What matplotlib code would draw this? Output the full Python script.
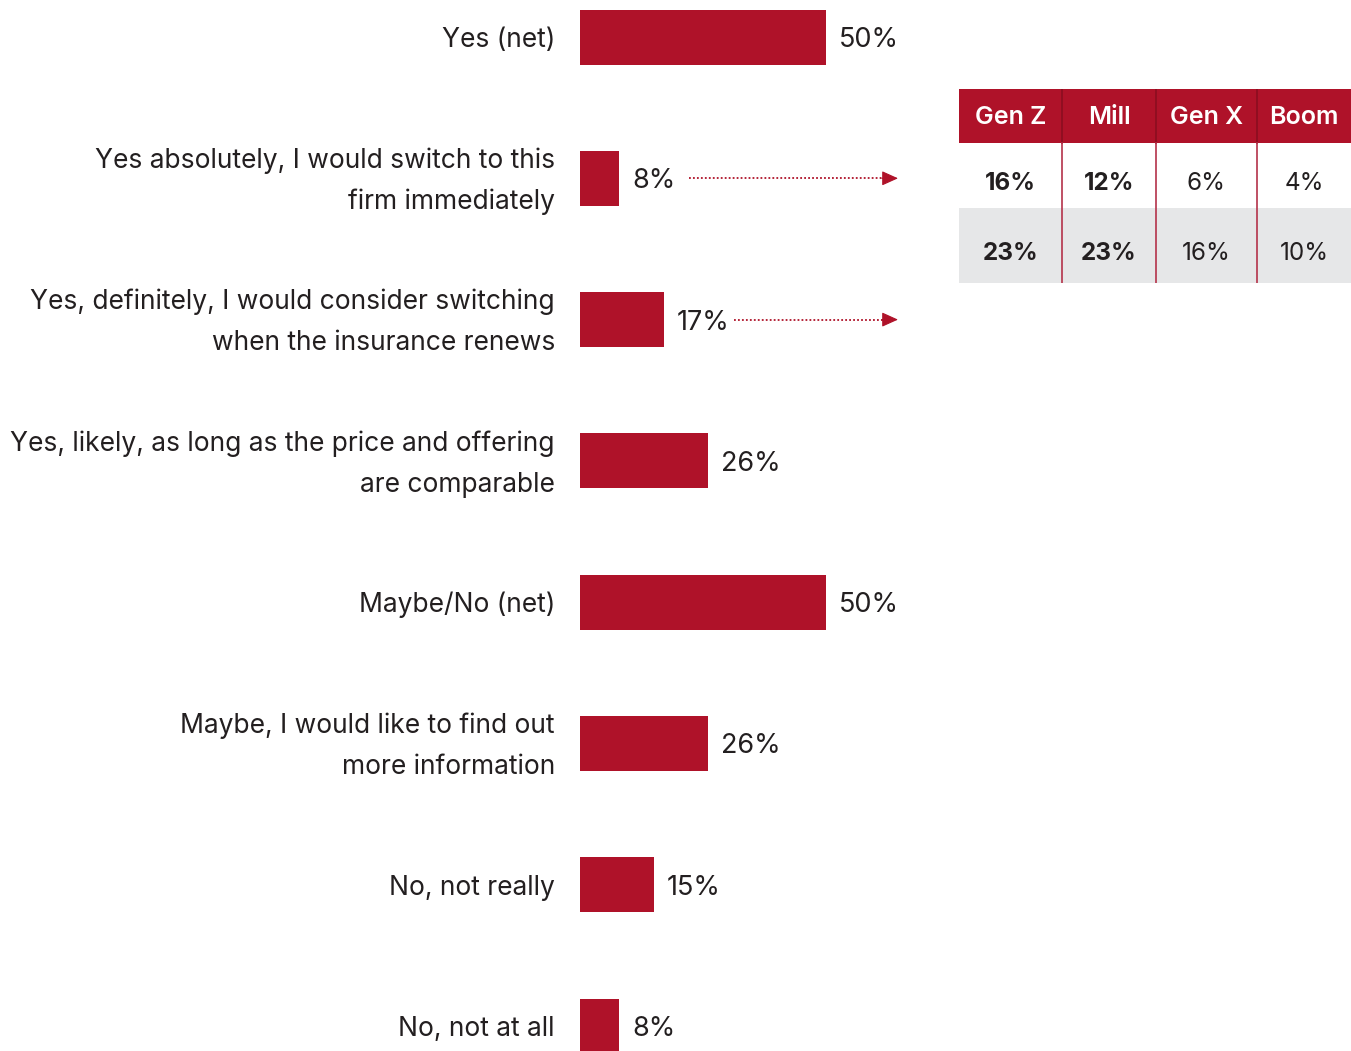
import matplotlib
matplotlib.use("Agg")
import matplotlib.pyplot as plt
from matplotlib.patches import Rectangle

# ---------------- data ----------------
categories = [
    "Yes (net)",
    "Yes absolutely, I would switch to this\nfirm immediately",
    "Yes, definitely, I would consider switching\nwhen the insurance renews",
    "Yes, likely, as long as the price and offering\nare comparable",
    "Maybe/No (net)",
    "Maybe, I would like to find out\nmore information",
    "No, not really",
    "No, not at all",
]
values = [50, 8, 17, 26, 50, 26, 15, 8]
arrow_rows = [1, 2]

table_headers = ["Gen Z", "Mill", "Gen X", "Boom"]
table_row1 = [16, 12, 6, 4]
table_row2 = [23, 23, 16, 10]
bold_cols = [0, 1]

# ---------------- style ----------------
RED = "#AF1229"
DARK = "#231F20"
GREY = "#E6E7E8"
FONT = ["Inter", "DejaVu Sans"]
W, H, DPI = 1351, 1051, 100

plt.rcParams["font.family"] = FONT

fig = plt.figure(figsize=(W / DPI, H / DPI), dpi=DPI)


def px_rect(x0, y0, x1, y1):
    return [x0 / W, 1 - y1 / H, (x1 - x0) / W, (y1 - y0) / H]


PX_PER_PCT = 4.92
ROW_PX = 141.3
ax = fig.add_axes(px_rect(580, 0, W, H))
ax.set_xlim(0, (W - 580) / PX_PER_PCT)
top = -37 / ROW_PX
ax.set_ylim(top + H / ROW_PX, top)
ax.axis("off")

ys = list(range(len(values)))
ax.barh(ys, values, height=55 / ROW_PX, color=RED, edgecolor="none")

for y, v, lab in zip(ys, values, categories):
    ax.annotate(lab, xy=(0, y), xytext=(-25, -3), textcoords="offset pixels",
                ha="right", va="center", fontsize=19, color=DARK,
                linespacing=1.75, multialignment="right")
    ax.annotate(f"{v}%", xy=(v, y), xytext=(13, -3), textcoords="offset pixels",
                ha="left", va="center", fontsize=19.5, color=DARK)

arrow_end = (898 - 580) / PX_PER_PCT
for r in arrow_rows:
    x0 = values[r] + 70 / PX_PER_PCT
    x1 = arrow_end - 12 / PX_PER_PCT
    ax.plot([x0, x1], [r, r], color=RED, lw=1.3, linestyle=(0, (1, 1.2)))
    ax.annotate("", xy=(arrow_end, r), xytext=(arrow_end - 16 / PX_PER_PCT, r),
                arrowprops=dict(arrowstyle="-|>,head_length=1.0,head_width=0.45",
                                color=RED, lw=0.8, shrinkA=0, shrinkB=0))

# ---------------- table ----------------
col_edges = [0, 103, 197, 298, 392]
tx = fig.add_axes(px_rect(959, 89, 1351, 283))
tx.set_xlim(0, col_edges[-1])
tx.set_ylim(194, 0)
tx.axis("off")
row_bounds = [(0, 54), (54, 119), (119, 194)]
row_fills = [RED, "white", GREY]
for (a, b), fc in zip(row_bounds, row_fills):
    tx.add_patch(Rectangle((0, a), col_edges[-1], b - a, facecolor=fc, edgecolor="none"))

for e in col_edges[1:-1]:
    tx.plot([e, e], [0, 54], color="#8A0E20", lw=1.2)
    tx.plot([e, e], [54, 194], color="#B4324A", lw=1.2)

centers = [(a + b) / 2 for a, b in zip(col_edges[:-1], col_edges[1:])]
for cx, h in zip(centers, table_headers):
    tx.text(cx, 29, h, ha="center", va="center", color="white",
            fontsize=18, fontweight="semibold")
for j, (cx, v1, v2) in enumerate(zip(centers, table_row1, table_row2)):
    fw = "bold" if j in bold_cols else "normal"
    tx.text(cx, 94, f"{v1}%", ha="center", va="center", color=DARK,
            fontsize=17.5, fontweight=fw)
    tx.text(cx, 165, f"{v2}%", ha="center", va="center", color=DARK,
            fontsize=17.5, fontweight=fw)

fig.savefig("out.png", dpi=DPI, facecolor="white")
